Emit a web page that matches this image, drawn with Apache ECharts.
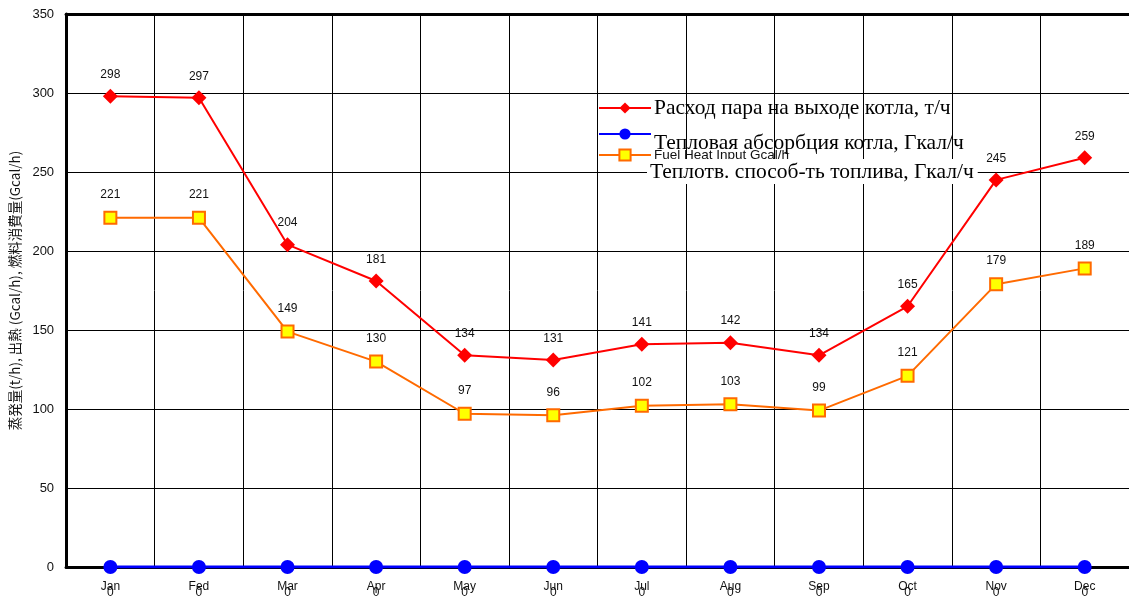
<!DOCTYPE html>
<html>
<head>
<meta charset="utf-8">
<style>
  html, body { margin: 0; padding: 0; background: #fff; }
  #chart { width: 1129px; height: 599px; }
</style>
<script src="https://cdn.jsdelivr.net/npm/echarts@6/dist/echarts.min.js"></script>
</head>
<body>
<div id="chart"></div>
<script>
// Monthly boiler data
const months = ['Jan', 'Fed', 'Mar', 'Apr', 'May', 'Jun', 'Jul', 'Aug', 'Sep', 'Oct', 'Nov', 'Dec'];
const steamOutput = [298, 297, 204, 181, 134, 131, 141, 142, 134, 165, 245, 259];
const heatAbsorption = [0, 0, 0, 0, 0, 0, 0, 0, 0, 0, 0, 0];
const fuelHeatInput = [221, 221, 149, 130, 97, 96, 102, 103, 99, 121, 179, 189];

const seriesNames = [
  'Расход пара на выходе котла, т/ч',
  'Тепловая абсорбция котла, Гкал/ч',
  'Fuel Heat Input Gcal/h'
];
const yAxisTitle = '蒸発量(t/h), 出熱 (Gcal/h), 燃料消費量(Gcal/h)';
const fuelCaption = 'Теплотв. способ-ть топлива, Гкал/ч';

const chart = echarts.init(document.getElementById('chart'));

const labelFont = { fontFamily: 'Liberation Sans, Arial, sans-serif', fontSize: 12, color: '#111' };
const serifBig = { fontFamily: 'Liberation Serif, Times New Roman, serif', fontSize: 21.5, color: '#000' };

// one legend block per series so each row can be placed on its own
function legendRow(name, top, textStyle, formatter) {
  return {
    orient: 'vertical',
    left: 598,
    top: top,
    padding: 0,
    itemWidth: 52,
    itemHeight: 14,
    data: [name],
    formatter: formatter || '{name}',
    textStyle: Object.assign({ padding: [0, 0, 0, -2] }, textStyle)
  };
}

chart.setOption({
  animation: false,
  backgroundColor: '#fff',
  grid: { left: 63, top: 14, width: 1069, height: 553, containLabel: false },
  xAxis: [{
    type: 'category',
    data: months,
    boundaryGap: true,
    axisLine: { show: true, lineStyle: { color: '#000', width: 3 } },
    axisTick: { show: false },
    splitLine: { show: true, interval: 0, lineStyle: { color: '#000', width: 1 } },
    axisLabel: { interval: 0, margin: 14, fontFamily: 'Liberation Sans, Arial, sans-serif', fontSize: 12, color: '#111' }
  }, {
    type: 'category',
    position: 'top',
    data: months,
    axisLine: { show: true, lineStyle: { color: '#000', width: 3 } },
    axisTick: { show: false },
    axisLabel: { show: false }
  }],
  yAxis: {
    type: 'value',
    min: 0, max: 350, interval: 50,
    name: yAxisTitle,
    nameLocation: 'middle',
    nameGap: 39,
    nameRotate: 90,
    nameTextStyle: { fontFamily: 'Noto Sans CJK JP, sans-serif', fontSize: 13.5, color: '#111' },
    axisLine: { show: true, lineStyle: { color: '#000', width: 3 } },
    axisTick: { show: false },
    splitLine: { show: true, lineStyle: { color: '#000', width: 1 } },
    axisLabel: { margin: 12, fontFamily: 'Liberation Sans, Arial, sans-serif', fontSize: 13, color: '#111' }
  },
  legend: [
    legendRow(seriesNames[0], 97, Object.assign({ lineHeight: 22 }, serifBig)),
    // caption sits a little below its marker
    legendRow(seriesNames[1], 114, Object.assign({ lineHeight: 18 }, serifBig), '\n{name}'),
    legendRow(seriesNames[2], 148, { fontFamily: 'Liberation Sans, Arial, sans-serif', fontSize: 13.5, color: '#111' })
  ],
  graphic: [{
    type: 'text',
    left: 647,
    top: 159,
    z: 100,
    style: {
      text: fuelCaption,
      font: '21.5px "Liberation Serif", "Times New Roman", serif',
      fill: '#000',
      backgroundColor: '#fff',
      padding: [2, 4, 1, 3]
    }
  }],
  series: [{
    name: seriesNames[0],
    type: 'line',
    data: steamOutput,
    symbol: 'diamond',
    symbolSize: 15,
    lineStyle: { color: '#ff0000', width: 2 },
    itemStyle: { color: '#ff0000' },
    label: { show: true, position: 'top', distance: 8, ...labelFont }
  }, {
    name: seriesNames[1],
    type: 'line',
    data: heatAbsorption,
    symbol: 'circle',
    symbolSize: 14,
    lineStyle: { color: '#0000ff', width: 3 },
    itemStyle: { color: '#0000ff' },
    label: { show: true, position: 'bottom', distance: 13, ...labelFont }
  }, {
    name: seriesNames[2],
    type: 'line',
    data: fuelHeatInput,
    symbol: 'rect',
    symbolSize: 12,
    lineStyle: { color: '#ff6a00', width: 2 },
    itemStyle: { color: '#ffff00', borderColor: '#ff6a00', borderWidth: 2 },
    label: { show: true, position: 'top', distance: 10, ...labelFont }
  }]
});
</script>
</body>
</html>
